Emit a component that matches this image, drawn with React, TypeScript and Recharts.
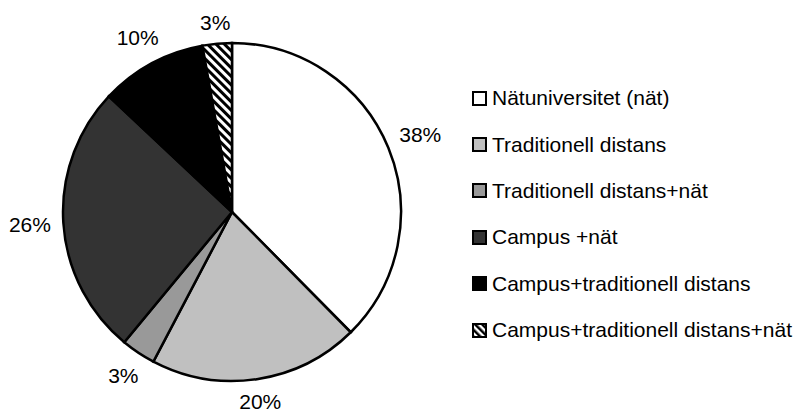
import React from 'react';
import { PieChart, Pie, Cell, Legend } from 'recharts';

const categories = [
  'Nätuniversitet (nät)',
  'Traditionell distans',
  'Traditionell distans+nät',
  'Campus +nät',
  'Campus+traditionell distans',
  'Campus+traditionell distans+nät',
];
const shares = [37.6, 20.1, 3.3, 26.0, 10.2, 2.8];
const fills = ['#ffffff', '#c0c0c0', '#999999', '#333333', '#000000', 'url(#hatch)'];

const data = categories.map((name, i) => ({ name, value: shares[i] }));

const FONT = '"Liberation Sans", Arial, Helvetica, sans-serif';
const RAD = Math.PI / 180;
const LABEL_SIZE = 21;
const HEIGHT = 412;

// excel-ish placement: keep the label box a fixed gap outside the circle
function renderLabel(props: any) {
  const { cx, cy, midAngle, outerRadius, percent } = props;
  const txt = `${Math.round(percent * 100)}%`;
  const ux = Math.cos(-midAngle * RAD);
  const uy = Math.sin(-midAngle * RAD);
  const w = LABEL_SIZE * (0.556 * (txt.length - 1) + 0.889);
  const h = 16;
  const r = outerRadius + 12 + Math.abs(ux) * w / 2 + Math.abs(uy) * h / 2;
  const y = Math.min(cy + r * uy, HEIGHT - 11);
  return (
    <text
      x={cx + r * ux}
      y={y}
      textAnchor="middle"
      dominantBaseline="central"
      fontFamily={FONT}
      fontSize={LABEL_SIZE}
      fill="#000"
    >
      {txt}
    </text>
  );
}

function LegendIcon({ fill, id }: { fill: string; id: string }) {
  const isHatch = fill.startsWith('url');
  return (
    <svg width={15} height={15} style={{ display: 'block', marginRight: 5 }}>
      {isHatch && (
        <defs>
          <pattern id={id} width={5} height={5} patternUnits="userSpaceOnUse" patternTransform="rotate(-45)">
            <rect width={5} height={5} fill="#fff" />
            <rect width={2.5} height={5} fill="#000" />
          </pattern>
        </defs>
      )}
      <rect x={1} y={1} width={13} height={13} fill={isHatch ? `url(#${id})` : fill} stroke="#000" strokeWidth={2} />
    </svg>
  );
}

function renderLegend() {
  return (
    <div style={{ fontFamily: FONT, fontSize: 21, color: '#000' }}>
      {data.map((d, i) => (
        <div key={d.name} style={{ display: 'flex', alignItems: 'center', height: 46.4, whiteSpace: 'nowrap' }}>
          <LegendIcon fill={fills[i]} id={`lg-hatch-${i}`} />
          <span>{d.name}</span>
        </div>
      ))}
    </div>
  );
}

export default function App() {
  return (
    <div style={{ position: 'absolute', left: 0, top: 0, width: 800, height: HEIGHT, background: '#fff' }}>
      <PieChart width={800} height={HEIGHT} margin={{ top: 0, right: 0, bottom: 0, left: 0 }}>
        <defs>
          <pattern id="hatch" width={6} height={6} patternUnits="userSpaceOnUse" patternTransform="rotate(-45)">
            <rect width={6} height={6} fill="#fff" />
            <rect width={3} height={6} fill="#000" />
          </pattern>
        </defs>
        <Pie
          data={data}
          dataKey="value"
          nameKey="name"
          cx={232}
          cy={212}
          outerRadius={169}
          startAngle={90}
          endAngle={-270}
          stroke="#000"
          strokeWidth={2.5}
          label={renderLabel}
          labelLine={false}
          isAnimationActive={false}
        >
          {data.map((d, i) => (
            <Cell key={d.name} fill={fills[i]} />
          ))}
        </Pie>
        <Legend
          content={renderLegend}
          layout="vertical"
          wrapperStyle={{ position: 'absolute', left: 472, top: 75, width: 320 }}
        />
      </PieChart>
    </div>
  );
}
